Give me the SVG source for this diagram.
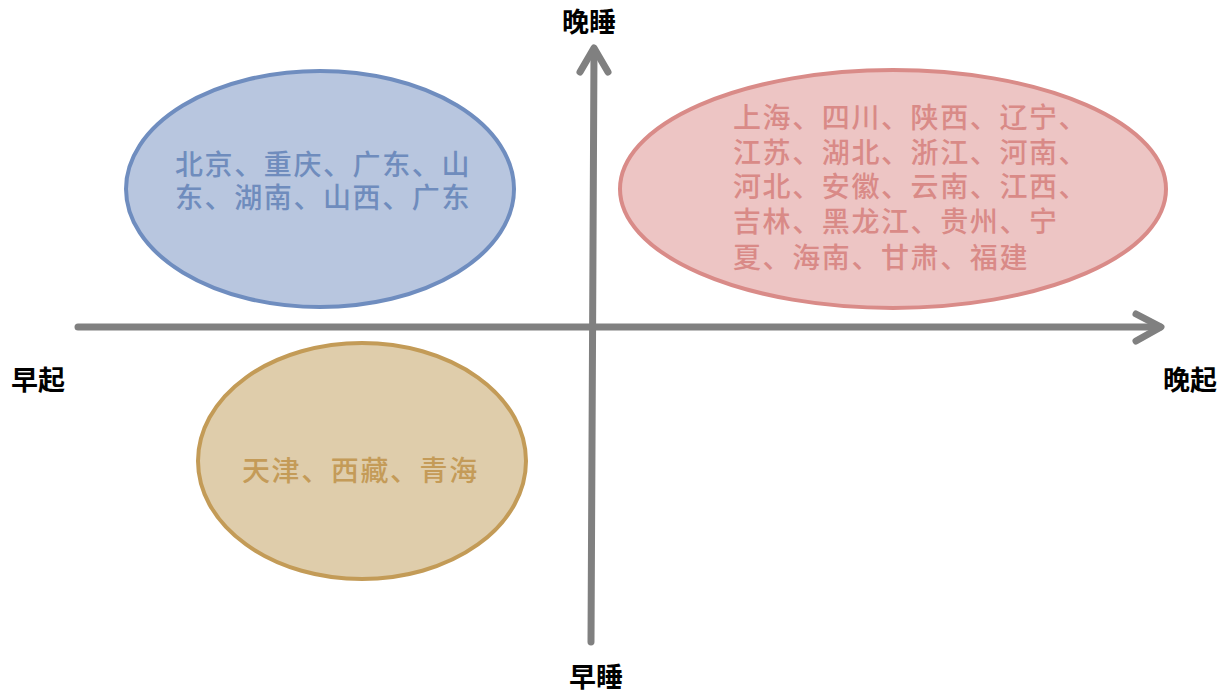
<svg xmlns="http://www.w3.org/2000/svg" width="1232" height="691" viewBox="0 0 1232 691">
<style>
.ax{stroke:#808080;stroke-width:7;fill:none;stroke-linecap:round;stroke-linejoin:round}
.lbl{font-family:"Liberation Sans","Noto Sans CJK SC",sans-serif;font-size:27px;font-weight:bold;fill:#000;text-anchor:middle}
.t{font-family:"Liberation Sans","Noto Sans CJK SC",sans-serif;font-size:28px;font-weight:500;letter-spacing:1.6px}
</style>
<rect width="1232" height="691" fill="#fff"/>
<g id="n-blue">
<ellipse cx="320" cy="189" rx="194" ry="118" fill="#b8c6df" stroke="#6f8dbf" stroke-width="4"/>
<text class="t" fill="#6f8cbd" x="175" y="175">北京、重庆、广东、山</text>
<text class="t" fill="#6f8cbd" x="175" y="208">东、湖南、山西、广东</text>
</g>
<g id="n-red">
<ellipse cx="893" cy="189" rx="273" ry="119" fill="#edc5c4" stroke="#d98b88" stroke-width="4"/>
<text class="t" fill="#d98a87" x="733" y="128">上海、四川、陕西、辽宁、</text>
<text class="t" fill="#d98a87" x="733" y="163">江苏、湖北、浙江、河南、</text>
<text class="t" fill="#d98a87" x="733" y="197">河北、安徽、云南、江西、</text>
<text class="t" fill="#d98a87" x="733" y="232">吉林、黑龙江、贵州、宁</text>
<text class="t" fill="#d98a87" x="733" y="268">夏、海南、甘肃、福建</text>
</g>
<g id="n-tan">
<ellipse cx="362" cy="461" rx="164" ry="118" fill="#dfcdab" stroke="#c39b57" stroke-width="4"/>
<text class="t" fill="#c49b58" x="242" y="481">天津、西藏、青海</text>
</g>
<g id="connectors">
<path class="ax" d="M78 327 H1160"/>
<path class="ax" d="M1136 314 L1161 327 L1136 341"/>
<path class="ax" d="M591 642 L594 50"/>
<path class="ax" d="M580 72 L594 48 L608 72"/>
</g>
<g id="labels">
<text class="lbl" x="589" y="32">晚睡</text>
<text class="lbl" x="38" y="390">早起</text>
<text class="lbl" x="1190" y="390">晚起</text>
<text class="lbl" x="596" y="687">早睡</text>
</g>
</svg>
